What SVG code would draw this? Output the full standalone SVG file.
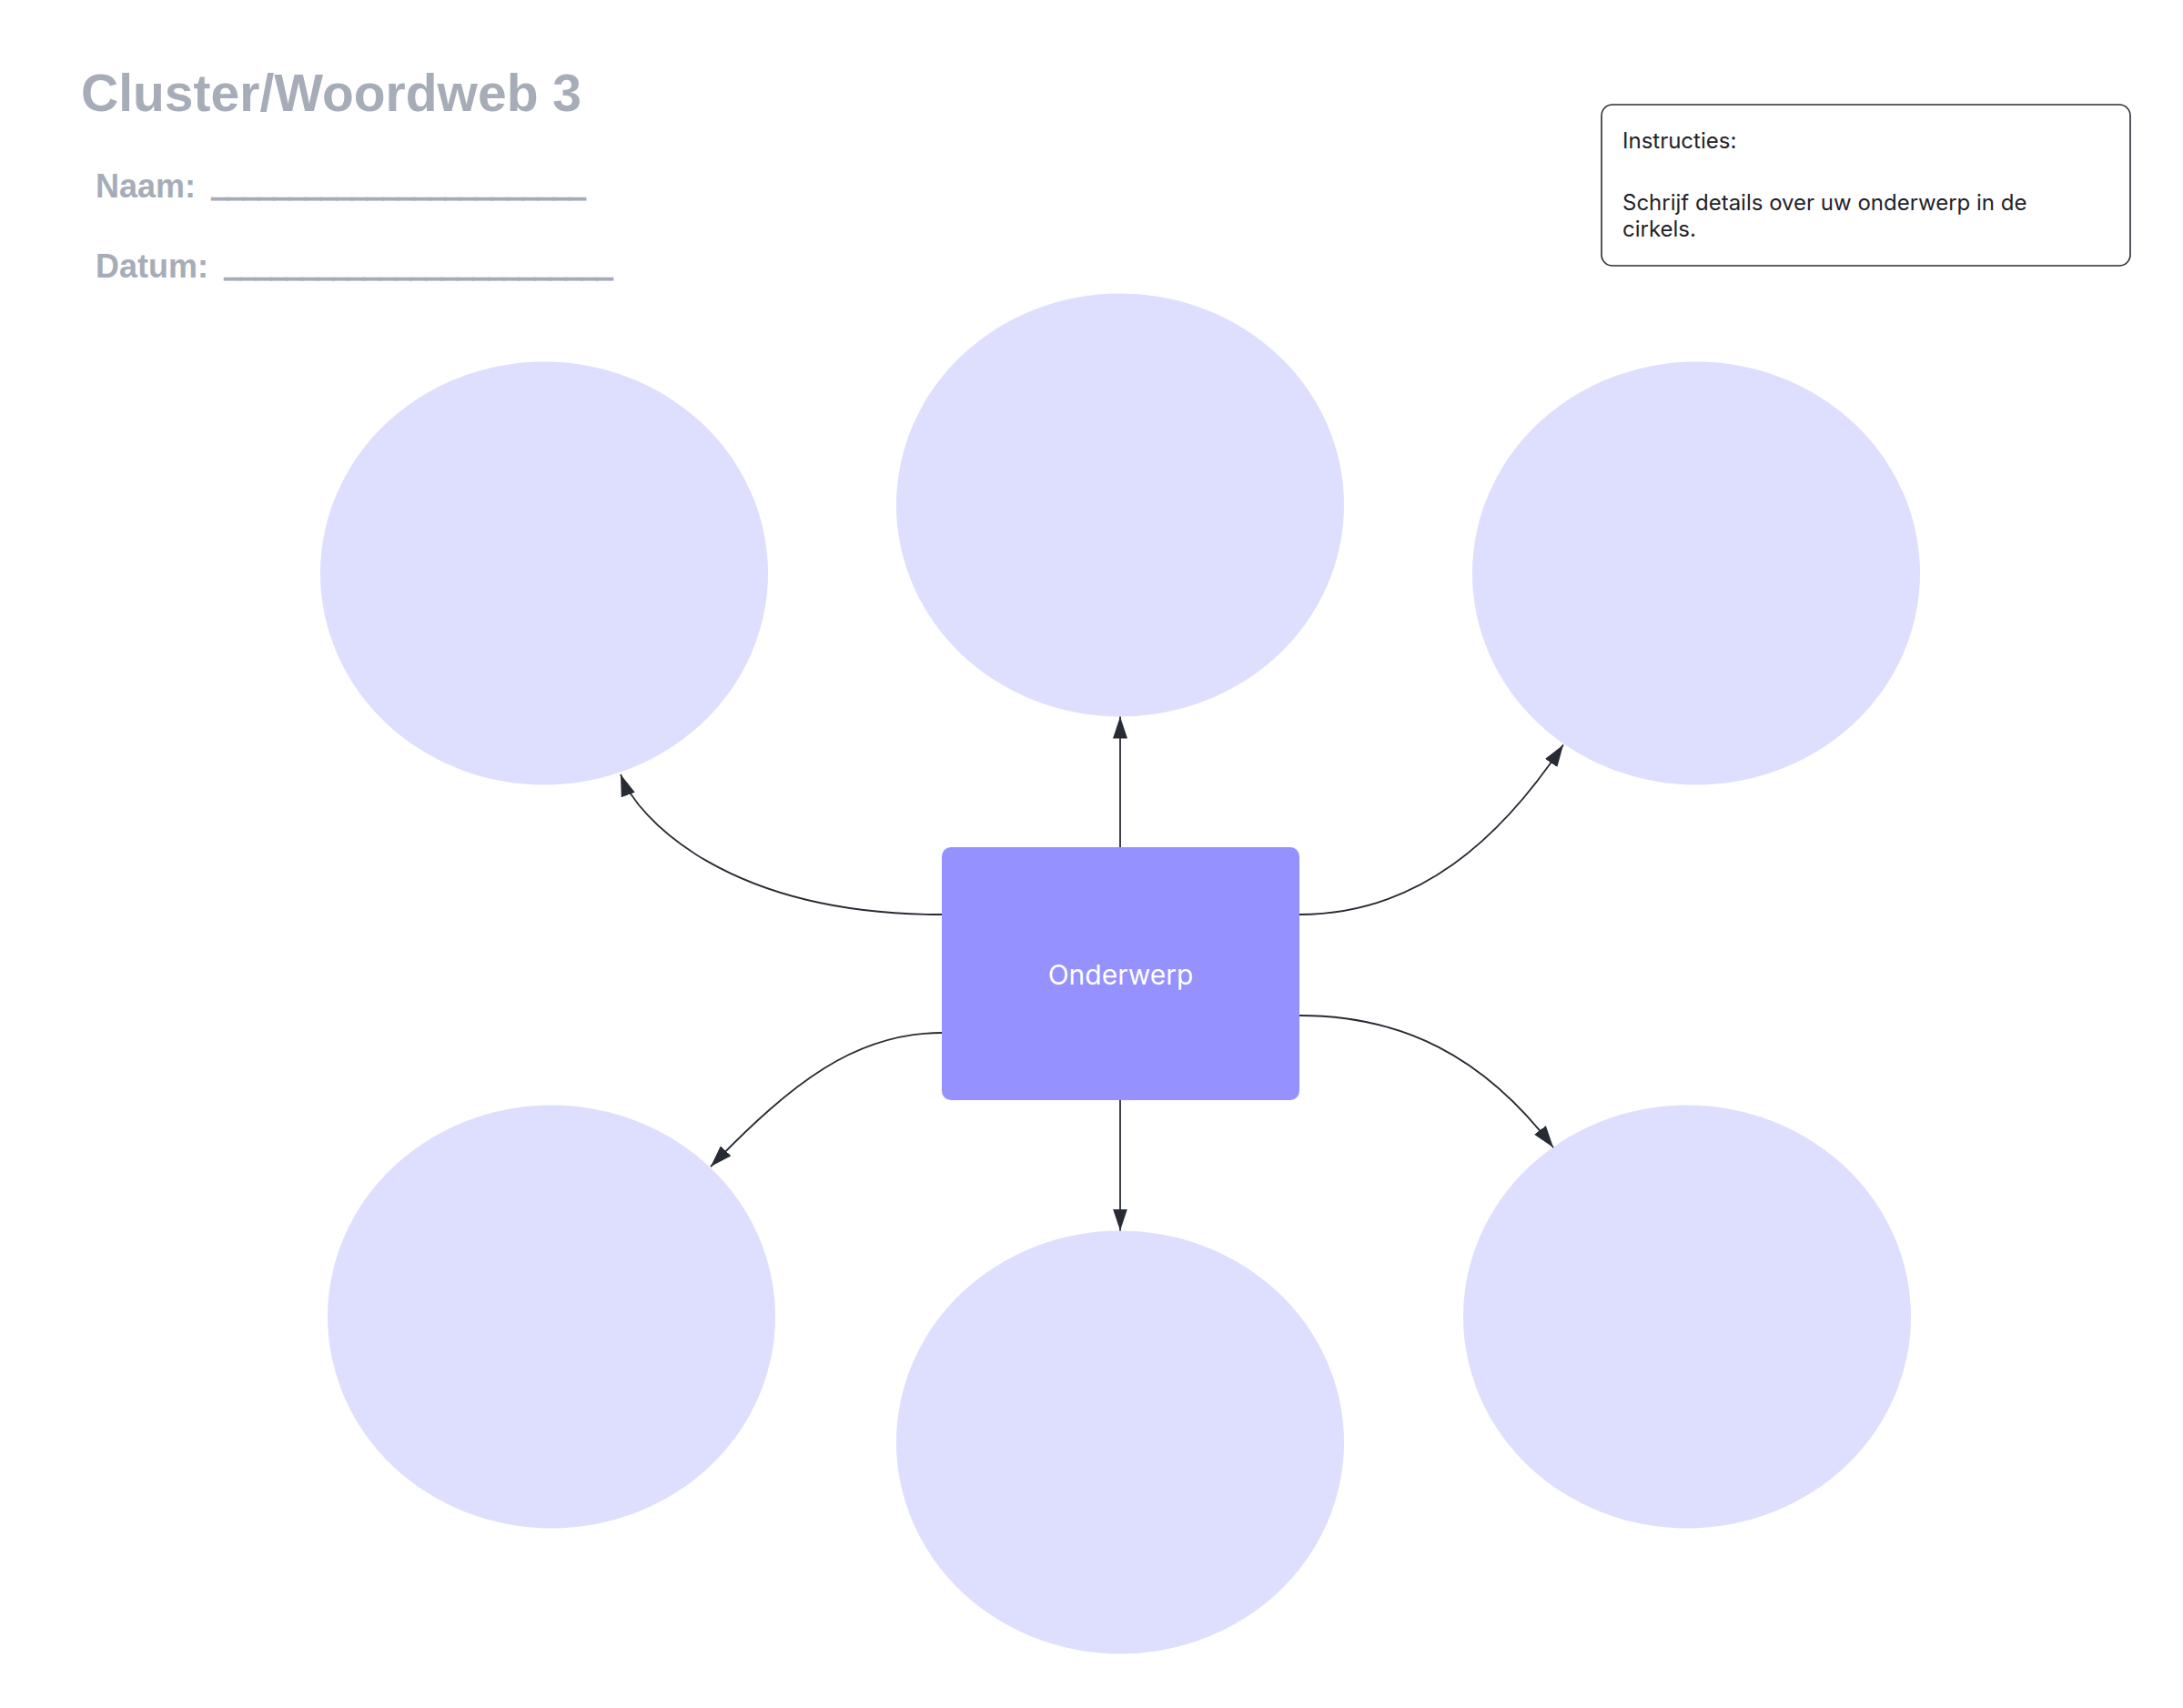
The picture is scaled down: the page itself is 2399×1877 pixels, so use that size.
<svg xmlns="http://www.w3.org/2000/svg" width="2399" height="1877" viewBox="0 0 2399 1877">
  <style>
    .head { font-family: "Liberation Sans", Arial, sans-serif; font-weight: bold; fill: #a7adb8; }
    .line { stroke: #a7adb8; stroke-width: 2.2; }
    .bubble { fill: #dedeff; }
    .conn { fill: none; stroke: #272b33; stroke-width: 1.8; }
    .instr { font-family: Inter, "Noto Sans", sans-serif; font-size: 24px; fill: #1f2328; }
  </style>
  <defs>
    <marker id="arrow" markerUnits="userSpaceOnUse" markerWidth="24" markerHeight="16" viewBox="0 0 24 16" refX="24" refY="8" orient="auto">
      <path d="M0,0 L24,8 L0,16 z" fill="#272b33"/>
    </marker>
  </defs>
  <rect x="0" y="0" width="2399" height="1877" fill="#ffffff"/>

  <g id="header">
    <text class="head" x="89" y="122" font-size="57">Cluster/Woordweb 3</text>
    <text class="head" x="105" y="217" font-size="36">Naam:</text>
    <text class="head line" x="233" y="215" font-size="36" textLength="410" lengthAdjust="spacingAndGlyphs">________________________</text>
    <text class="head" x="105" y="305" font-size="36">Datum:</text>
    <text class="head line" x="247" y="303" font-size="36" textLength="426" lengthAdjust="spacingAndGlyphs">_________________________</text>
  </g>

  <g id="instructions">
    <rect x="1760" y="115" width="581" height="177" rx="12" fill="#ffffff" stroke="#2a2f36" stroke-width="1.6"/>
    <text class="instr" x="1783" y="163">Instructies:</text>
    <text class="instr" x="1783" y="231">Schrijf details over uw onderwerp in de</text>
    <text class="instr" x="1783" y="260">cirkels.</text>
  </g>

  <g id="bubble-top-left"><ellipse class="bubble" cx="598" cy="630" rx="246" ry="232.5"/></g>
  <g id="bubble-top-center"><ellipse class="bubble" cx="1231" cy="555" rx="246" ry="232.5"/></g>
  <g id="bubble-top-right"><ellipse class="bubble" cx="1864" cy="630" rx="246" ry="232.5"/></g>
  <g id="bubble-bottom-left"><ellipse class="bubble" cx="606" cy="1447" rx="246" ry="232.5"/></g>
  <g id="bubble-bottom-center"><ellipse class="bubble" cx="1231" cy="1585" rx="246" ry="232.5"/></g>
  <g id="bubble-bottom-right"><ellipse class="bubble" cx="1854" cy="1447" rx="246" ry="232.5"/></g>

  <g id="connectors">
    <path class="conn" d="M1231,931 L1231,787.5" marker-end="url(#arrow)"/>
    <path class="conn" d="M1231,1209 L1231,1352.5" marker-end="url(#arrow)"/>
    <path class="conn" d="M1035,1005 C800,1005 700,900 682,851" marker-end="url(#arrow)"/>
    <path class="conn" d="M1428,1005 C1560,1005 1650,920 1718,818.5" marker-end="url(#arrow)"/>
    <path class="conn" d="M1035,1135 C940,1135 870,1190 781,1282" marker-end="url(#arrow)"/>
    <path class="conn" d="M1428,1116 C1540,1116 1630,1160 1707,1261" marker-end="url(#arrow)"/>
  </g>

  <g id="topic">
    <rect x="1035" y="931" width="393" height="278" rx="10" fill="#9591ff"/>
    <text x="1231.5" y="1082" text-anchor="middle" font-family="Inter, 'Noto Sans', sans-serif" font-size="30" fill="#ffffff">Onderwerp</text>
  </g>
</svg>
